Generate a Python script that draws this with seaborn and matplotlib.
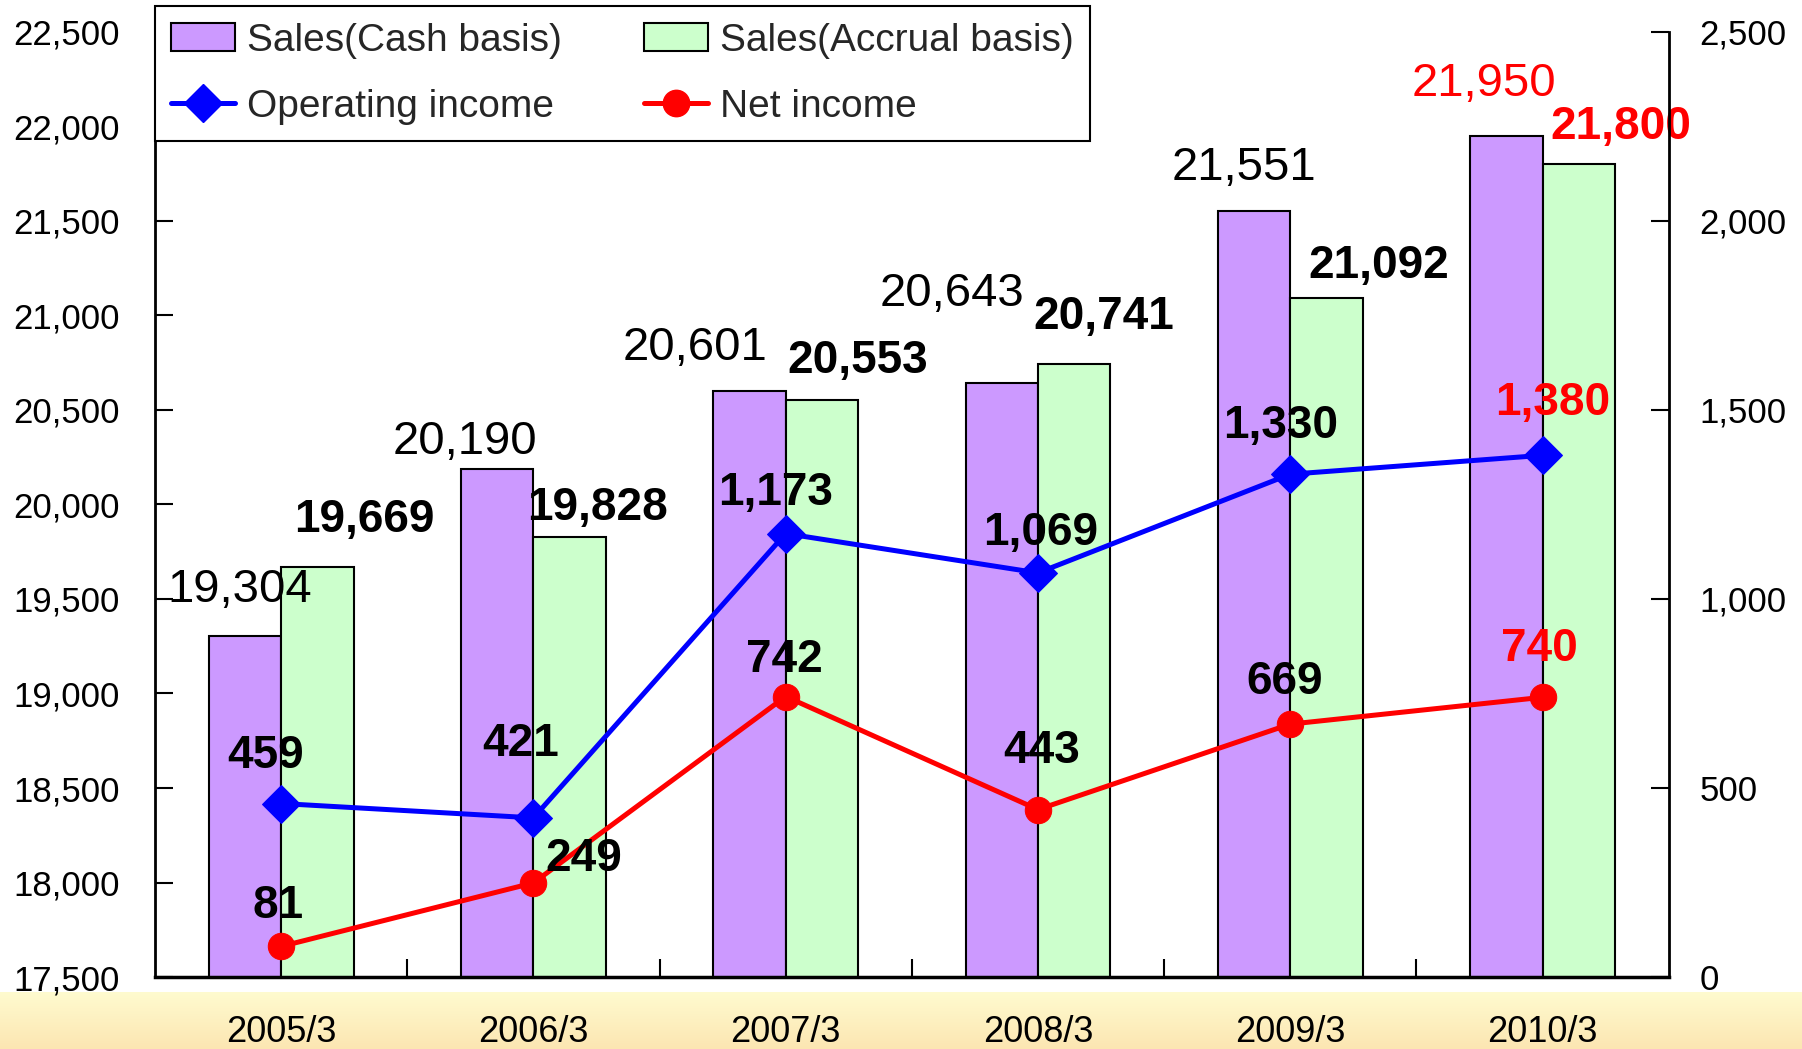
import numpy as np
import pandas as pd
import matplotlib
matplotlib.use("Agg")
import matplotlib.pyplot as plt
from matplotlib.patches import Patch
from matplotlib.lines import Line2D
from matplotlib.ticker import FuncFormatter, FixedLocator
import seaborn as sns

# ---- data ----
years = ["2005/3", "2006/3", "2007/3", "2008/3", "2009/3", "2010/3"]
sales_cash = [19304, 20190, 20601, 20643, 21551, 21950]
sales_accrual = [19669, 19828, 20553, 20741, 21092, 21800]
operating_income = [459, 421, 1173, 1069, 1330, 1380]
net_income = [81, 249, 742, 443, 669, 740]

# label offsets (points) from the mark to the text centre
cash_off = [(-4, 33), (-23, 19), (-39, 31), (-36, 64), (-7, 31), (-16, 37)]
accr_off = [(34, 34), (20, 21), (26, 28), (21, 34), (38, 23), (30, 27)]
op_off = [(-11, 34), (-9, 53), (-7, 29), (2, 29), (-7, 35), (7, 38)]
net_off = [(-2, 29), (36, 17), (-1, 26), (3, 42), (-4, 30), (-2, 35)]

PURPLE = "#CC99FF"
GREEN = "#CCFFCC"

sns.set_theme(style="white")
plt.rcParams["font.family"] = ["Liberation Sans", "DejaVu Sans"]

fig = plt.figure(figsize=(18.02, 10.49), dpi=100)

# yellow gradient strip at the bottom
bg = fig.add_axes([0, 0, 1, 0.054])
grad = np.linspace(0, 1, 100).reshape(-1, 1)
cmap = matplotlib.colors.LinearSegmentedColormap.from_list("strip", ["#FFFBCF", "#FCE6B2"])
bg.imshow(grad, aspect="auto", cmap=cmap, extent=[0, 1, 0, 1])
bg.axis("off")
bg.set_zorder(0)

ax = fig.add_axes([0.086, 0.0686, 0.840, 0.901])
ax.set_zorder(2)

df = pd.DataFrame({
    "year": years * 2,
    "sales": sales_cash + sales_accrual,
    "basis": ["Sales(Cash basis)"] * len(years) + ["Sales(Accrual basis)"] * len(years),
})
sns.barplot(data=df, x="year", y="sales", hue="basis", palette=[PURPLE, GREEN],
            width=0.574, edgecolor="black", linewidth=1.5, saturation=1,
            legend=False, ax=ax)
ax.set_ylim(17500, 22500)
ax.set_xlim(-0.5, len(years) - 0.5)

ax2 = ax.twinx()
xs = np.arange(len(years))
sns.lineplot(x=xs, y=operating_income, ax=ax2, color="#0000FF", marker="D",
             markersize=19, markeredgecolor="#0000FF", linewidth=3.6)
sns.lineplot(x=xs, y=net_income, ax=ax2, color="#FF0000", marker="o",
             markersize=19, markeredgecolor="#FF0000", linewidth=3.6)
ax2.set_ylim(0, 2500)
ax2.set_xlim(-0.5, len(years) - 0.5)

# axes styling
for a in (ax, ax2):
    a.spines["top"].set_visible(False)
    for s in ("left", "right", "bottom"):
        a.spines[s].set_linewidth(2)
        a.spines[s].set_color("black")
ax.spines["right"].set_visible(False)
ax2.spines["left"].set_visible(False)
ax.spines["bottom"].set_linewidth(2.5)

ax.set_yticks(np.arange(17500, 22501, 500))
ax.yaxis.set_major_formatter(FuncFormatter(lambda v, p: f"{v:,.0f}"))
ax.tick_params(axis="y", direction="in", length=13, width=1.5, pad=25,
               labelsize=25, colors="black", left=True)
ax2.set_yticks(np.arange(0, 2501, 500))
ax2.yaxis.set_major_formatter(FuncFormatter(lambda v, p: f"{v:,.0f}"))
ax2.tick_params(axis="y", direction="in", length=13, width=1.5, pad=22,
                labelsize=25, colors="black", right=True)

ax.set_xticks(xs)
ax.set_xticklabels(years)
ax.tick_params(axis="x", which="major", length=0, pad=27, labelsize=26, colors="black")
ax.xaxis.set_minor_locator(FixedLocator(np.arange(0.5, len(years) - 0.5, 1)))
ax.tick_params(axis="x", which="minor", direction="in", length=13, width=1.5,
               bottom=True, colors="black")
ax.set_xlabel("")
ax.set_ylabel("")
ax2.set_ylabel("")

# value labels
def lab_color(i):
    return "#FF0000" if i == len(years) - 1 else "black"

bw = 0.574 / 2
for i in range(len(years)):
    ax.annotate(f"{sales_cash[i]:,}", (i - bw / 2, sales_cash[i]), xytext=cash_off[i],
                textcoords="offset points", ha="center", va="center",
                fontsize=34, color=lab_color(i), annotation_clip=False)
    ax.annotate(f"{sales_accrual[i]:,}", (i + bw / 2, sales_accrual[i]), xytext=accr_off[i],
                textcoords="offset points", ha="center", va="center",
                fontsize=33, fontweight="bold", color=lab_color(i), annotation_clip=False)
    ax2.annotate(f"{operating_income[i]:,}", (i, operating_income[i]), xytext=op_off[i],
                 textcoords="offset points", ha="center", va="center",
                 fontsize=33, fontweight="bold", color=lab_color(i))
    ax2.annotate(f"{net_income[i]:,}", (i, net_income[i]), xytext=net_off[i],
                 textcoords="offset points", ha="center", va="center",
                 fontsize=33, fontweight="bold", color=lab_color(i))

# legend
handles = [
    Patch(facecolor=PURPLE, edgecolor="black", linewidth=1.5, label="Sales(Cash basis)"),
    Line2D([], [], color="#0000FF", marker="D", markersize=19, linewidth=3.6, label="Operating income"),
    Patch(facecolor=GREEN, edgecolor="black", linewidth=1.5, label="Sales(Accrual basis)"),
    Line2D([], [], color="#FF0000", marker="o", markersize=19, linewidth=3.6, label="Net income"),
]
leg = fig.legend(handles=handles, ncol=2, loc="upper left", bbox_to_anchor=(0.086, 0.994),
                 frameon=True, fancybox=False, framealpha=1, edgecolor="black",
                 fontsize=28, handlelength=1.65, handleheight=0.7, handletextpad=0.3,
                 columnspacing=2.1, labelspacing=0.77, borderpad=0.42, borderaxespad=0)
leg.get_frame().set_linewidth(1.5)
leg.set_zorder(10)

fig.savefig("out.png", dpi=100)
